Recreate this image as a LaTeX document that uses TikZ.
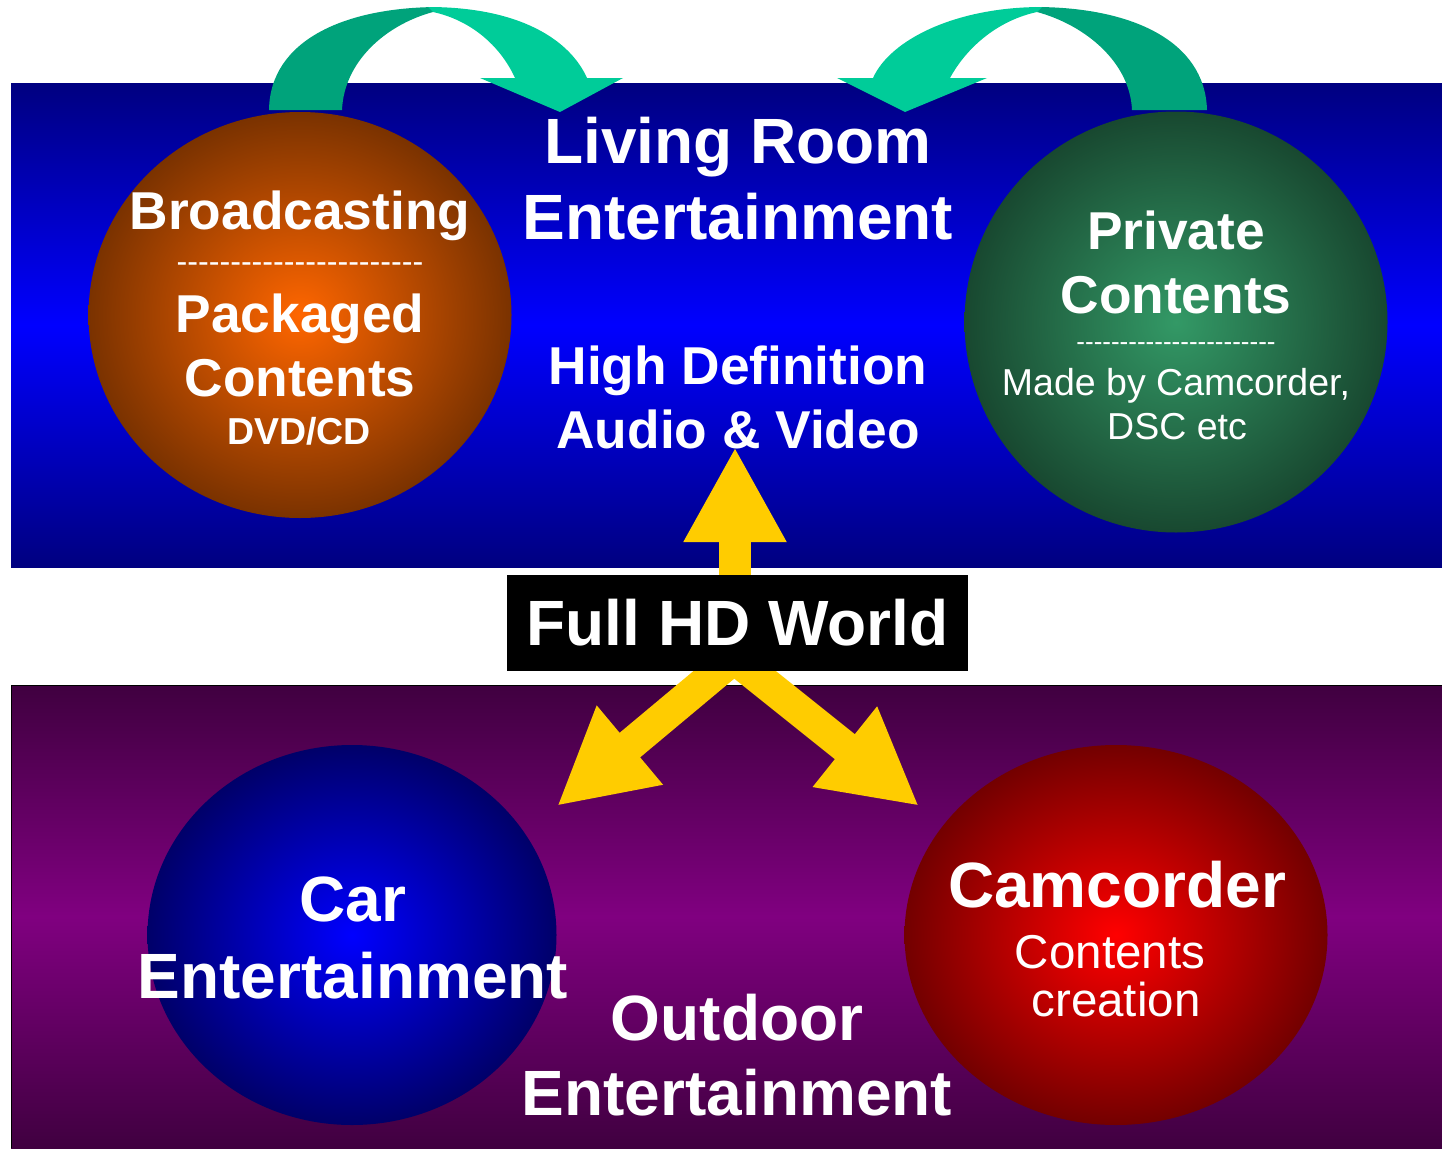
\documentclass[tikz,border=0pt]{standalone}
\usepackage{fontspec}
\setmainfont{Liberation Sans}
\usetikzlibrary{shapes.geometric}
\usetikzlibrary{arrows.meta}

\definecolor{navyband}{RGB}{0,0,128}
\definecolor{blueband}{RGB}{0,0,255}
\definecolor{plumdark}{RGB}{64,0,64}
\definecolor{plumlight}{RGB}{128,0,128}
\definecolor{greenback}{RGB}{0,163,123}
\definecolor{greenfront}{RGB}{0,204,153}
\definecolor{hdyellow}{RGB}{255,204,0}

\pgfdeclarelayer{backdrop}
\pgfsetlayers{backdrop,main}

\tikzstyle{ball}=[ellipse, shade, inner sep=0pt]
\tikzstyle{bigtext}=[text=white, anchor=base, font=\bfseries\fontsize{64}{64}\selectfont]
\tikzstyle{midtext}=[text=white, anchor=base, font=\bfseries\fontsize{53.3}{53.3}\selectfont]
\tikzstyle{smalltext}=[text=white, anchor=base, font=\fontsize{37.5}{37.5}\selectfont]
\tikzstyle{dashtext}=[text=white, anchor=base]
\tikzstyle{yellow arrow}=[draw=hdyellow, line width=32pt, -{Triangle[width=96pt,length=95pt]}]

\newcommand{\dashrow}{-{}-{}-{}-{}-{}-{}-{}-{}-{}-{}-{}-{}-{}-{}-{}-{}-{}-{}-{}-{}-{}-{}-}

\begin{document}
\begin{tikzpicture}[x=1pt, y=-1pt]
  \useasboundingbox (0,0) rectangle (1442,1148);

  \begin{pgfonlayer}{backdrop}
    % the two worlds
    \shade[top color=navyband, bottom color=navyband, middle color=blueband]
      (11,83) rectangle (1442,567);
    \shade[top color=plumdark, bottom color=plumdark, middle color=plumlight]
      (11,685) rectangle (1442,1148);
    \draw[black, line width=1.5pt] (11.5,1148) -- (11.5,685.5) -- (1442,685.5);

    % curved arrows into the living room
    \fill[greenback] (269,110) .. controls (270,40) and (345,7) .. (440,7)
      -- (433,12) .. controls (385,25) and (344,62) .. (342,110) -- cycle;
    \fill[greenfront] (433,12) -- (428,7) .. controls (520,7) and (570,40) .. (587,78)
      -- (623,78) -- (560,112) -- (480,78) -- (515,78)
      .. controls (500,45) and (470,20) .. (433,12) -- cycle;
    \fill[greenback] (1207,110) .. controls (1205,40) and (1130,7) .. (1035,7)
      -- (1037,12) .. controls (1085,25) and (1130,62) .. (1132,110) -- cycle;
    \fill[greenfront] (1037,12) -- (1042,7) .. controls (955,7) and (890,40) .. (873,78)
      -- (837,78) -- (905,112) -- (987,78) -- (950,78)
      .. controls (968,45) and (1000,20) .. (1037,12) -- cycle;
  \end{pgfonlayer}

  % content sources
  \node[ball, inner color={rgb,255:red,255;green,102;blue,0}, outer color={rgb,255:red,122;green,50;blue,0},
    minimum width=423pt, minimum height=406pt] (packaged) at (300,315) {};
  \node[ball, inner color={rgb,255:red,51;green,153;blue,102}, outer color={rgb,255:red,24;green,72;blue,48},
    minimum width=423pt, minimum height=421pt] (private) at (1176,322) {};
  \node[ball, inner color=blueband, outer color={rgb,255:red,0;green,0;blue,105},
    minimum width=409pt, minimum height=380pt] (car) at (352,935) {};
  \node[ball, inner color={rgb,255:red,255;green,0;blue,0}, outer color={rgb,255:red,115;green,0;blue,0},
    minimum width=423pt, minimum height=380pt] (camcorder) at (1116,935) {};

  % living room
  \node[bigtext] (living) at (738,163) {Living Room};
  \node[bigtext] (livingent) at (738,239) {Entertainment};
  \node[midtext] (hidef) at (738,384) {High Definition};
  \node[midtext] (audiovideo) at (738,448) {Audio \& Video};

  \node[midtext] (broadcast) at (300,229) {Broadcasting};
  \node[dashtext, font=\fontsize{32.2}{32.2}\selectfont] (broaddash) at (300,272) {\dashrow};
  \node[midtext] (packagedtext) at (300,332) {Packaged};
  \node[midtext] (packagedcont) at (300,396) {Contents};
  \node[text=white, anchor=base, font=\bfseries\fontsize{37.5}{37.5}\selectfont] (dvd) at (299,444) {DVD/CD};

  \node[midtext] (privatetext) at (1176,249) {Private};
  \node[midtext] (privatecont) at (1176,313) {Contents};
  \node[dashtext, font=\fontsize{26}{26}\selectfont] (privatedash) at (1176,350) {\dashrow};
  \node[smalltext] (madeby) at (1176,395) {Made by Camcorder,};
  \node[smalltext] (dsc) at (1177,439) {DSC etc};

  % outdoor
  \node[bigtext] (cartext) at (353,921) {Car};
  \node[bigtext] (carent) at (353,998) {Entertainment};
  \node[bigtext] (outdoor) at (737,1040) {Outdoor};
  \node[bigtext] (outdoorent) at (737,1115) {Entertainment};
  \node[bigtext] (camtext) at (1117,907) {Camcorder};
  \node[smalltext, font=\fontsize{47.5}{47.5}\selectfont] (camcont) at (1110,968) {Contents};
  \node[smalltext, font=\fontsize{47.5}{47.5}\selectfont] (creation) at (1116,1016) {creation};

  % full hd hub
  \node[fill=black, text=white, inner sep=0pt, minimum width=461pt, minimum height=96pt,
    font=\bfseries\fontsize{64}{64}\selectfont] (fullhd) at (737.5,623) {Full HD World};

  \coordinate (avtip) at (735,447);
  \coordinate (fork) at (734,658);
  \coordinate (cartip) at (557,806);
  \coordinate (camtip) at (919,806);
  \begin{pgfonlayer}{backdrop}
    \draw[yellow arrow] (avtip |- fullhd.north) -- (avtip);
    \draw[yellow arrow] (fork) -- (cartip);
    \draw[yellow arrow] (fork) -- (camtip);
  \end{pgfonlayer}
\end{tikzpicture}
\end{document}
